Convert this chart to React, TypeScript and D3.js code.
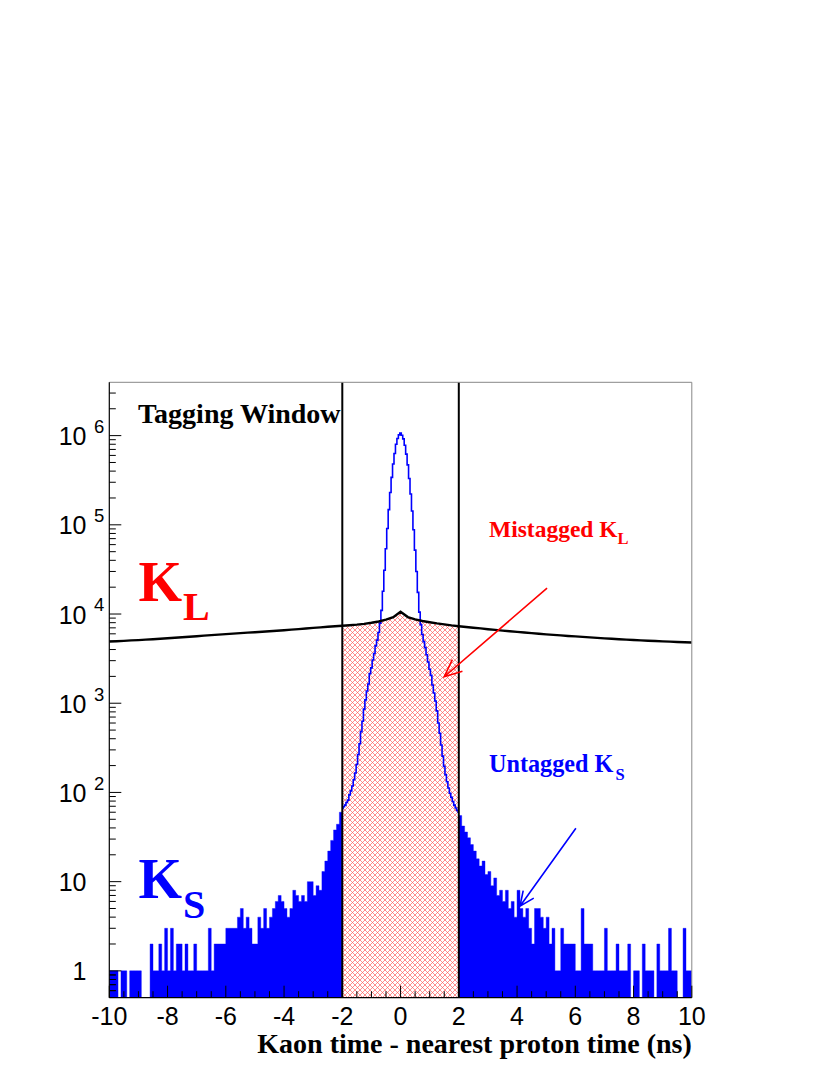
import React from 'react';
import * as d3 from 'd3';

const W = 830;
const H = 1075;
const PL = 109.3, PR = 691.8, PT = 382.3, PB = 997.7;

// x axis
const xDomain = [-10, 10];
const xMajorTicks = [-10, -8, -6, -4, -2, 0, 2, 4, 6, 8, 10];
// y axis (log)
const yDomain = [0.5, 3.96e6];
const yMajorTicks = [1, 10, 100, 1000, 10000, 100000, 1000000];
const yExponents = ['', '', '2', '3', '4', '5', '6'];
const yBaseLabels = ['1', '10', '10', '10', '10', '10', '10'];

// Tagging window edges (ns)
const windowEdges = [-2, 2];

// K_S histogram outside the window: 0.1 ns bins
const ksBinWidth = 0.1;
const ksLeftStart = -10; // bins from -10 to -2
const ksLeft = [
  1, 1, 1, 0, 1, 1, 0, 1, 1, 1,
  1, 0, 0, 0, 2, 1, 1, 2, 1, 3,
  1, 3, 1, 2, 2, 1, 2, 1, 1, 2,
  1, 1, 1, 1, 3, 1, 2, 2, 2, 2,
  3, 3, 3, 3, 4, 5, 3, 4, 3, 2,
  2, 4, 3, 5, 3, 4, 5, 6, 7, 6,
  5, 4, 5, 8, 7, 6, 7, 6, 10, 10,
  7, 9, 8, 13, 17, 22, 29, 38, 44, 60,
];
const ksRightStart = 2; // bins from 2 to 10
const ksRight = [
  55, 42, 36, 31, 26, 22, 18, 15, 17, 12,
  13, 9, 11, 7, 8, 6, 8, 5, 6, 4,
  8, 5, 4, 5, 3, 2, 5, 5, 4, 3,
  4, 2, 3, 1, 1, 3, 2, 2, 2, 2,
  1, 1, 5, 2, 2, 2, 1, 1, 1, 1,
  3, 1, 1, 1, 2, 1, 1, 1, 2, 0,
  1, 1, 0, 2, 1, 1, 1, 0, 2, 1,
  1, 1, 3, 1, 1, 0, 0, 3, 1, 1,
];

// K_S inside the window: points every 0.05 ns from -2 to 2
const ksCoreStart = -2;
const ksCoreStep = 0.05;
const ksCore = [
  66, 69, 72, 77, 82, 94, 104, 118, 139, 165,
  206, 266, 352, 480, 628, 860, 1090, 1370, 1640, 2150,
  2490, 3050, 3610, 4400, 5100, 6200, 7900, 11000, 18000, 31000,
  54000, 91000, 148000, 230000, 340000, 480000, 630000, 800000, 930000, 1020000,
  1070000,
  1010000, 920000, 780000, 620000, 470000, 330000, 222000, 143000, 88000, 52000,
  30000, 17500, 10500, 7600, 5900, 4900, 4200, 3500, 2900, 2400,
  2050, 1600, 1300, 1060, 820, 600, 460, 340, 255, 196,
  158, 132, 112, 98, 88, 79, 72, 67, 63, 60,
];

// K_L distribution: points every 0.25 ns from -10 to 10
const klStart = -10;
const klStep = 0.25;
const kl = [
  4900, 4950, 5000, 5060, 5100, 5160, 5220, 5280, 5350, 5420,
  5490, 5560, 5640, 5720, 5800, 5880, 5960, 6030, 6100, 6180,
  6250, 6330, 6410, 6490, 6580, 6680, 6780, 6880, 6990, 7090,
  7190, 7290,
  7380, 7480, 7600, 7760, 7980, 8250, 8650, 9200, 10600, 9250,
  8700, 8350, 8100, 7850, 7650, 7450, 7300,
  7150, 7020, 6900, 6760, 6640, 6520, 6410, 6310, 6200, 6100,
  6010, 5920, 5840, 5760, 5680, 5610, 5540, 5470, 5400, 5340,
  5280, 5220, 5170, 5120, 5070, 5020, 4980, 4940, 4900, 4860,
  4830, 4800,
];

// annotation arrows in data coordinates [t0, v0, t1, v1]
const redArrow = [5.03, 19500, 1.5, 1980];
const blueArrow = [6.02, 39.6, 4.1, 5.3];

const x = d3.scaleLinear().domain(xDomain).range([PL, PR]);
const y = d3.scaleLog().domain(yDomain).range([PB, PT]);

const serif = "'Liberation Serif', 'Times New Roman', serif";
const sans = "'Liberation Sans', Arial, Helvetica, sans-serif";

function histPoints(start: number, vals: number[]) {
  const pts = vals.map((v, i) => ({ t: start + ksBinWidth * i, v }));
  pts.push({ t: start + ksBinWidth * vals.length, v: vals[vals.length - 1] });
  return pts;
}

function arrowPath(a: number[], len: number, angDeg: number) {
  const x0 = x(a[0]), y0 = y(a[1]), x1 = x(a[2]), y1 = y(a[3]);
  const ang = Math.atan2(y0 - y1, x0 - x1);
  const r = (angDeg * Math.PI) / 180;
  const b1 = [x1 + len * Math.cos(ang + r), y1 + len * Math.sin(ang + r)];
  const b2 = [x1 + len * Math.cos(ang - r), y1 + len * Math.sin(ang - r)];
  return `M${x0},${y0}L${x1},${y1}M${b1[0]},${b1[1]}L${x1},${y1}L${b2[0]},${b2[1]}`;
}

export default function App() {
  const histArea = d3
    .area<{ t: number; v: number }>()
    .x((d) => x(d.t))
    .y0(PB)
    .y1((d) => (d.v > 0 ? y(d.v) : PB))
    .curve(d3.curveStepAfter);

  const coreLine = d3
    .line<number>()
    .x((_, i) => x(ksCoreStart + ksCoreStep * i))
    .y((v) => y(v))
    .curve(d3.curveStep);

  const klPts = kl.map((v, i) => ({ t: klStart + klStep * i, v }));
  const klLine = d3
    .line<{ t: number; v: number }>()
    .x((d) => x(d.t))
    .y((d) => y(d.v));
  const hatchPts = klPts.filter((d) => d.t >= windowEdges[0] - 1e-9 && d.t <= windowEdges[1] + 1e-9);
  const hatchArea = d3
    .area<{ t: number; v: number }>()
    .x((d) => x(d.t))
    .y0(PB)
    .y1((d) => y(d.v));

  // minor ticks
  const yMinor: number[] = [];
  for (let e = -1; e <= 6; e++) {
    for (let m = 2; m <= 9; m++) {
      const v = m * Math.pow(10, e);
      if (v > yDomain[0] && v < yDomain[1] && !(e === -1 && m < 6)) yMinor.push(v);
    }
  }
  yMinor.push(0.6, 0.7, 0.8, 0.9);
  const xMinor: number[] = [];
  for (let i = 0; i <= 40; i++) {
    const t = -10 + 0.5 * i;
    if (Math.abs(t / 2 - Math.round(t / 2)) > 1e-6) xMinor.push(t);
  }

  return (
    <svg width={W} height={H} style={{ position: 'absolute', left: 0, top: 0, background: '#fff' }}>
      <defs>
        <pattern id="hatch" patternUnits="userSpaceOnUse" width={5} height={5}>
          <path d="M0,0L5,5M5,0L0,5" stroke="#ff3030" strokeWidth={0.7} opacity={0.8} />
        </pattern>
        <clipPath id="plotClip">
          <rect x={PL} y={PT} width={PR - PL} height={PB - PT} />
        </clipPath>
      </defs>
      <rect x={0} y={0} width={W} height={H} fill="#fff" />

      <g clipPath="url(#plotClip)">
        {/* hatched mistagged K_L */}
        <path d={hatchArea(hatchPts) || ''} fill="url(#hatch)" stroke="none" />
        {/* K_S outside window */}
        <path d={histArea(histPoints(ksLeftStart, ksLeft)) || ''} fill="#0000ff" stroke="#0000ff" strokeWidth={0.4} />
        <path d={histArea(histPoints(ksRightStart, ksRight)) || ''} fill="#0000ff" stroke="#0000ff" strokeWidth={0.4} />
        {/* K_S inside window */}
        <path d={coreLine(ksCore) || ''} fill="none" stroke="#0000ff" strokeWidth={1.6} />
        {/* K_L */}
        <path d={klLine(klPts) || ''} fill="none" stroke="#000" strokeWidth={2.4} />
      </g>

      {/* window edges */}
      {windowEdges.map((t) => (
        <line key={t} x1={x(t)} x2={x(t)} y1={PT} y2={PB} stroke="#000" strokeWidth={2} />
      ))}

      {/* frame */}
      <line x1={PL} x2={PR} y1={PT} y2={PT} stroke="#888" strokeWidth={1} />
      <line x1={PR} x2={PR} y1={PT} y2={PB} stroke="#888" strokeWidth={1} />
      <line x1={PL} x2={PL} y1={PT} y2={PB} stroke="#000" strokeWidth={1.2} />
      <line x1={PL} x2={PR} y1={PB} y2={PB} stroke="#000" strokeWidth={1.2} />

      {/* y ticks */}
      {yMajorTicks.map((v) => (
        <line key={'ym' + v} x1={PL} x2={PL + 12} y1={y(v)} y2={y(v)} stroke="#000" strokeWidth={1} />
      ))}
      {yMinor.map((v) => (
        <line key={'yn' + v} x1={PL} x2={PL + 6.5} y1={y(v)} y2={y(v)} stroke="#000" strokeWidth={1} />
      ))}
      {/* x ticks */}
      {xMajorTicks.map((t) => (
        <line key={'xm' + t} x1={x(t)} x2={x(t)} y1={PB} y2={PB - 12} stroke="#000" strokeWidth={1} />
      ))}
      {xMinor.map((t) => (
        <line key={'xn' + t} x1={x(t)} x2={x(t)} y1={PB} y2={PB - 6.5} stroke="#000" strokeWidth={1} />
      ))}

      {/* y labels */}
      {yMajorTicks.map((v, i) => (
        <g key={'yl' + v} fontFamily={sans} fill="#000">
          <text x={86.5} y={y(v) + 9.5} fontSize={25} textAnchor="end">
            {yBaseLabels[i]}
          </text>
          {yExponents[i] && (
            <text x={94} y={y(v) - 2.7} fontSize={18.5}>
              {yExponents[i]}
            </text>
          )}
        </g>
      ))}
      {/* x labels */}
      {xMajorTicks.map((t) => (
        <text key={'xl' + t} x={x(t)} y={1025} fontFamily={sans} fontSize={25} textAnchor="middle" fill="#000">
          {t}
        </text>
      ))}

      {/* x title */}
      <text x={PR} y={1053} fontFamily={serif} fontWeight="bold" fontSize={28} textAnchor="end" fill="#000">
        Kaon time - nearest proton time (ns)
      </text>

      {/* annotations */}
      <text x={138} y={423} fontFamily={serif} fontWeight="bold" fontSize={28} fill="#000">
        Tagging Window
      </text>
      <g fontFamily={serif} fontWeight="bold" fill="#ff0000">
        <text x={138.5} y={600.7} fontSize={56}>K</text>
        <text x={183} y={620} fontSize={40}>L</text>
        <text x={489} y={536.7} fontSize={23.5}>Mistagged K</text>
        <text x={617.5} y={544.3} fontSize={16.5}>L</text>
      </g>
      <g fontFamily={serif} fontWeight="bold" fill="#0000ff">
        <text x={138.5} y={898.3} fontSize={56}>K</text>
        <text x={183} y={918} fontSize={40}>S</text>
        <text x={489} y={771.7} fontSize={24.2}>Untagged K</text>
        <text x={615.5} y={780} fontSize={16.5}>S</text>
      </g>
      <path d={arrowPath(redArrow, 19, 24)} fill="none" stroke="#ff0000" strokeWidth={1.6} />
      <path d={arrowPath(blueArrow, 16, 24)} fill="none" stroke="#0000ff" strokeWidth={1.6} />
    </svg>
  );
}
